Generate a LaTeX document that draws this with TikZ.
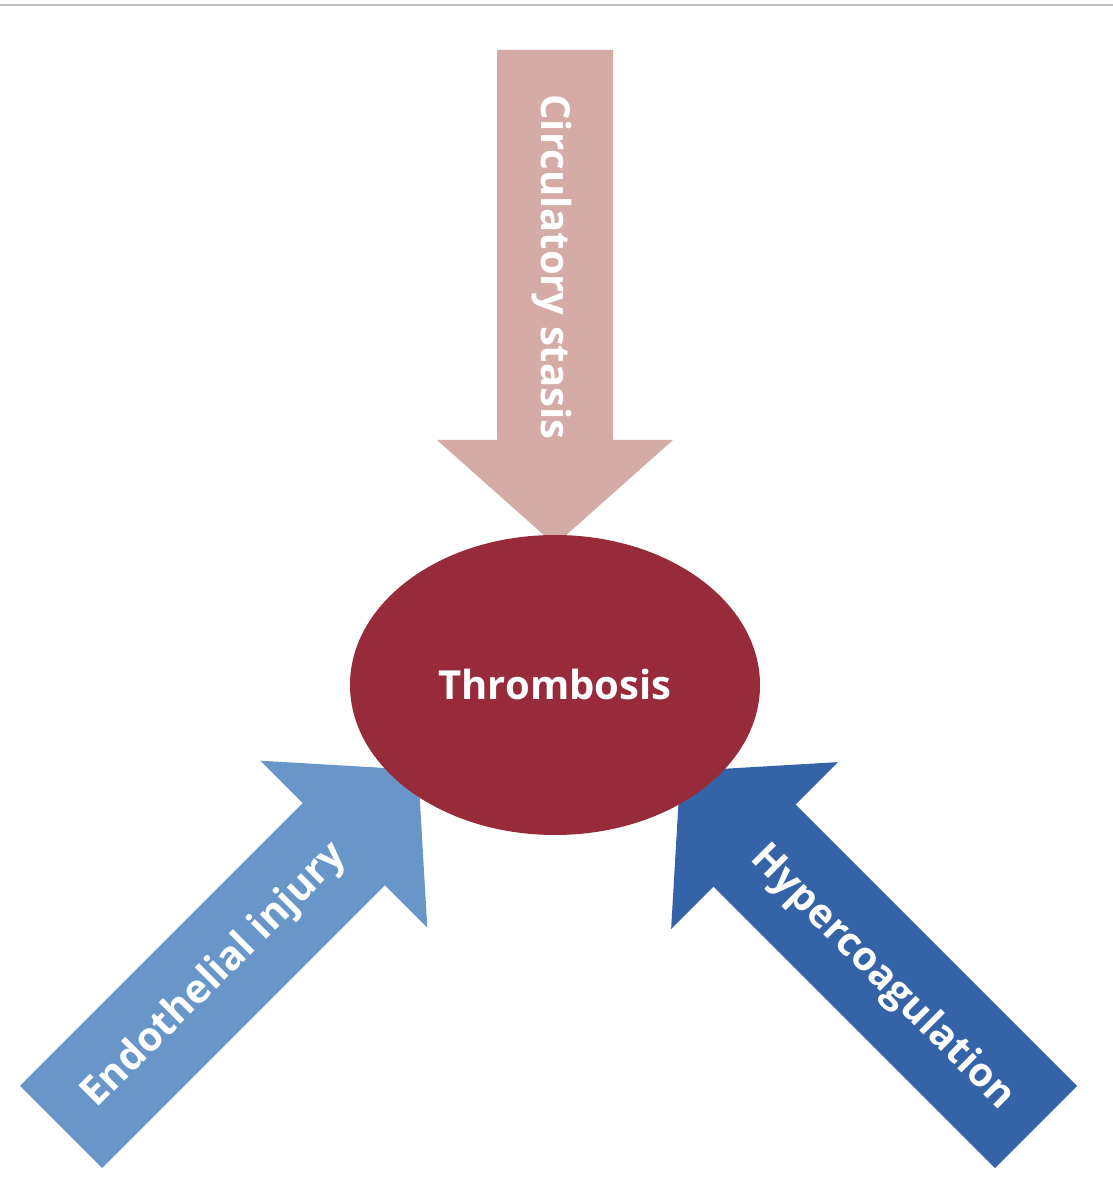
\documentclass[tikz,border=0pt]{standalone}
\usepackage{fontspec}
\setmainfont{Open Sans}
\usetikzlibrary{shapes.geometric}
\begin{document}
\begin{tikzpicture}[x=1pt,y=1pt,
  lbl/.style={text=white,font=\bfseries\fontsize{40}{42}\selectfont,inner sep=0pt}]
\definecolor{pinkA}{HTML}{D4ABA5}
\definecolor{redA}{HTML}{972B3A}
\definecolor{lblue}{HTML}{6896C8}
\definecolor{dblue}{HTML}{3463A8}
\useasboundingbox (0,0) rectangle (1113,1200);
\fill[white] (0,0) rectangle (1113,1200);
\draw[gray!50,line width=2pt] (0,1195) -- (1113,1195);
\newcommand{\bigarrow}[5]{% tail x, tail y, angle, length, color
  \begin{scope}[shift={(#1,#2)},rotate=#3]
  \fill[#5] (0,-58) -- (#4-105,-58) -- (#4-105,-118) -- (#4,0) -- (#4-105,118) -- (#4-105,58) -- (0,58) -- cycle;
  \end{scope}}
\bigarrow{555}{1150}{-90}{495}{pinkA}
\bigarrow{61}{73}{45}{505}{lblue}
\bigarrow{1036}{73}{135}{503}{dblue}
\node[ellipse,fill=redA,minimum width=410,minimum height=300,inner sep=0pt] (thr) at (555,515) {};
\node[lbl] (thrl) at (thr) {Thrombosis};
\node[lbl,rotate=-90] (circ) at (552,933) {Circulatory stasis};
\node[lbl,rotate=45] (endo) at (215,224) {Endothelial injury};
\node[lbl,rotate=-45] (hyp) at (882,222) {Hypercoagulation};
\end{tikzpicture}
\end{document}
